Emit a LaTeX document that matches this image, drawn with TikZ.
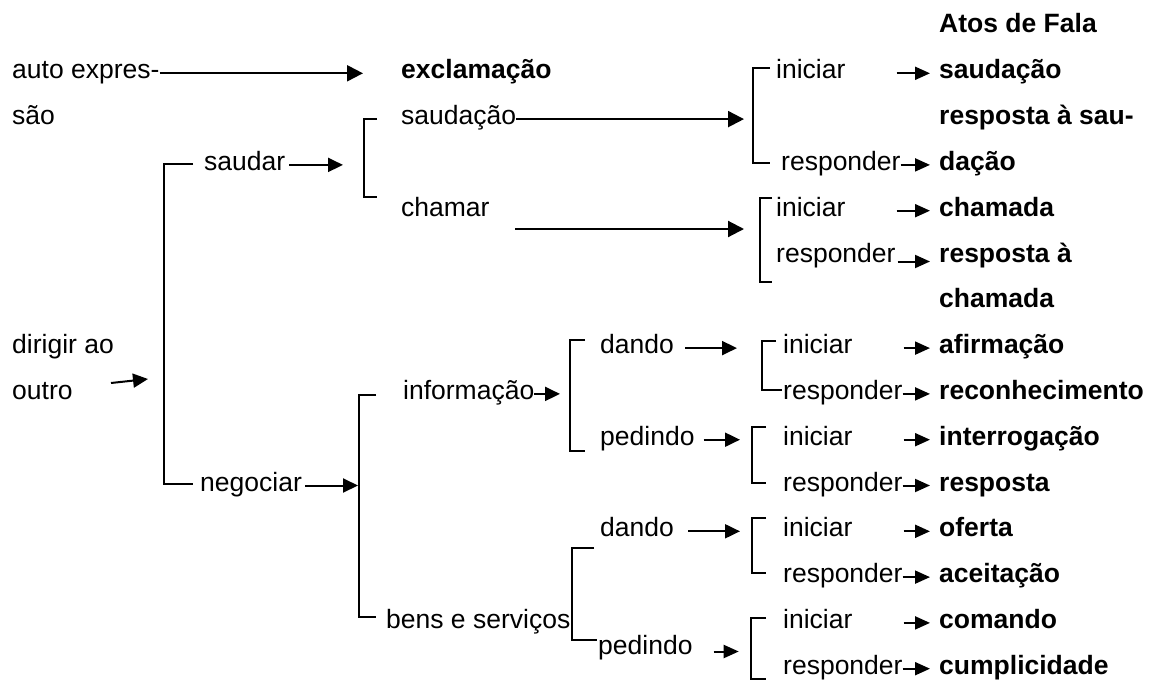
\documentclass[tikz,border=0pt]{standalone}
\usepackage{fontspec}
\setmainfont{Liberation Sans}
\usetikzlibrary{arrows.meta}
\begin{document}
\begin{tikzpicture}[x=1pt,y=1pt,
  lbl/.style={inner sep=0pt, anchor=base west, text height=11pt, text depth=0pt, font=\fontsize{26.5}{30}\selectfont},
  bld/.style={lbl, font=\fontsize{26.5}{30}\selectfont\bfseries},
  arr/.style={line width=2.1pt, -{Triangle[length=16pt,width=16pt]}},
  marr/.style={line width=2pt, -{Triangle[length=15pt,width=14pt]}},
  sarr/.style={line width=2pt, -{Triangle[length=15pt,width=13pt]}},
  brk/.style={line width=1.7pt}]
\path[use as bounding box] (0,0) rectangle (1150,-682);

% left and middle texts
\node[lbl] (autoexp) at (12,-78.8) {auto expres-};
\node[lbl] (sao) at (12,-124.6) {são};
\node[lbl] (dirigir) at (12,-353.6) {dirigir ao};
\node[lbl] (outro) at (12,-399.4) {outro};
\node[lbl] (saudar) at (204,-170.4) {saudar};
\node[lbl] (negociar) at (200,-491) {negociar};
\node[bld] (exclam) at (401,-78.8) {exclamação};
\node[lbl] (saudacao) at (401,-124.6) {saudação};
\node[lbl] (chamar) at (401,-216.2) {chamar};
\node[lbl] (info) at (403,-399.4) {informação};
\node[lbl] (bens) at (386,-628.4) {bens e serviços};
\node[lbl] (dandoA) at (600,-353.6) {dando};
\node[lbl] (pedindoA) at (600,-445.2) {pedindo};
\node[lbl] (dandoB) at (600,-536.8) {dando};
\node[lbl] (pedindoB) at (598,-654) {pedindo};

% iniciar / responder
\node[lbl] (iniA) at (776,-78.8) {iniciar};
\node[lbl] (respA) at (781,-170.4) {responder};
\node[lbl] (iniB) at (776,-216.2) {iniciar};
\node[lbl] (respB) at (776,-262) {responder};
\node[lbl] (iniC) at (783,-353.6) {iniciar};
\node[lbl] (respC) at (783,-399.4) {responder};
\node[lbl] (iniD) at (783,-445.2) {iniciar};
\node[lbl] (respD) at (783,-491) {responder};
\node[lbl] (iniE) at (783,-536.8) {iniciar};
\node[lbl] (respE) at (783,-582.6) {responder};
\node[lbl] (iniF) at (783,-628.4) {iniciar};
\node[lbl] (respF) at (783,-674.2) {responder};

% speech acts
\node[bld] (atos) at (939,-33) {Atos de Fala};
\node[bld] (sA) at (939,-78.8) {saudação};
\node[bld] (rsA) at (939,-124.6) {resposta à sau-};
\node[bld] (dacao) at (939,-170.4) {dação};
\node[bld] (cham) at (939,-216.2) {chamada};
\node[bld] (rcham) at (939,-262) {resposta à};
\node[bld] (cham2) at (939,-307.8) {chamada};
\node[bld] (afirm) at (939,-353.6) {afirmação};
\node[bld] (recon) at (939,-399.4) {reconhecimento};
\node[bld] (interr) at (939,-445.2) {interrogação};
\node[bld] (resp) at (939,-491) {resposta};
\node[bld] (oferta) at (939,-536.8) {oferta};
\node[bld] (aceit) at (939,-582.6) {aceitação};
\node[bld] (comando) at (939,-628.4) {comando};
\node[bld] (cumpl) at (939,-674.2) {cumplicidade};

% brackets
\draw[brk] (193,-164) -- (164,-164) -- (164,-484) -- (193,-484);
\draw[brk] (377,-119) -- (364,-119) -- (364,-197) -- (377,-197);
\draw[brk] (770,-68) -- (753,-68) -- (753,-163) -- (770,-163);
\draw[brk] (772,-198) -- (760,-198) -- (760,-282) -- (772,-282);
\draw[brk] (376,-395) -- (359,-395) -- (359,-617) -- (376,-617);
\draw[brk] (585,-340) -- (570,-340) -- (570,-451) -- (585,-451);
\draw[brk] (776,-341) -- (762,-341) -- (762,-390) -- (782,-390);
\draw[brk] (766,-427) -- (752,-427) -- (752,-483) -- (766,-483);
\draw[brk] (594,-548) -- (572,-548) -- (572,-640) -- (597,-640);
\draw[brk] (766,-518) -- (752,-518) -- (752,-573) -- (766,-573);
\draw[brk] (766,-618) -- (751,-618) -- (751,-679) -- (766,-679);

% arrow tips
\coordinate (tAuto) at (363,0);
\coordinate (tSaud) at (744,0);
\coordinate (ch0) at (515,-229);
\coordinate (ch1) at (744,-229);
\coordinate (d0) at (111,-383);
\coordinate (d1) at (148,-379);
\coordinate (tSaudar) at (343,0);
\coordinate (tNeg) at (358,0);
\coordinate (tInfo) at (560,0);
\coordinate (tDA) at (737,0);
\coordinate (tPA) at (740,0);
\coordinate (tDB) at (740,0);
\coordinate (tAct) at (930,0);

% long arrows
\draw[arr] (autoexp.east) -- (autoexp.east -| tAuto);
\draw[arr] (saudacao.east) -- (saudacao.east -| tSaud);
\draw[arr] (ch0) -- (ch1);
% medium arrows
\draw[marr] (d0) -- (d1);
\draw[marr] (saudar.east) ++(4,0) -- (saudar.east -| tSaudar);
\draw[marr] (negociar.east) ++(3,0) -- (negociar.east -| tNeg);
\draw[marr] (info.east) -- (info.east -| tInfo);
\draw[marr] ([xshift=11pt]dandoA.east) -- (dandoA.east -| tDA);
\draw[marr] ([xshift=9pt]pedindoA.east) -- (pedindoA.east -| tPA);
\draw[marr] ([xshift=14pt]dandoB.east) -- (dandoB.east -| tDB);
\draw[sarr] ([shift={(21pt,-3pt)}]pedindoB.east) -- +(25,0);
% short arrows to speech acts
\foreach \n in {iniA,iniB,iniC,iniD,iniE,iniF}{
  \draw[sarr] ([xshift=51pt]\n.east) -- (\n.east -| tAct);
}
\foreach \n in {respA,respC,respD,respE,respF}{
  \draw[sarr] (\n.east) -- (\n.east -| tAct);
}
\draw[sarr] ([shift={(2pt,-5pt)}]respB.east) -- ([yshift=-5pt]respB.east -| tAct);
\end{tikzpicture}
\end{document}
